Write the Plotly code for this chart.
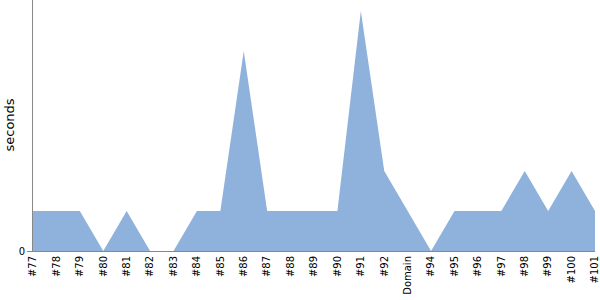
import plotly.graph_objects as go

categories = ["#77", "#78", "#79", "#80", "#81", "#82", "#83", "#84", "#85", "#86",
              "#87", "#88", "#89", "#90", "#91", "#92", "Domain", "#94", "#95", "#96",
              "#97", "#98", "#99", "#100", "#101"]
seconds = [1, 1, 1, 0, 1, 0, 0, 1, 1, 5,
           1, 1, 1, 1, 6, 2, 1, 0, 1, 1,
           1, 2, 1, 2, 1]

fig = go.Figure()
fig.add_trace(go.Scatter(
    x=categories, y=seconds, mode="lines", fill="tozeroy",
    line=dict(width=0, color="#8fb2dc"), fillcolor="#8fb2dc",
    hoverinfo="x+y",
))

fig.add_annotation(
    text="seconds", textangle=-90, showarrow=False,
    xref="paper", yref="paper", x=(9 - 33) / 562, y=0.5,
    xanchor="center", yanchor="middle",
    font=dict(size=13, color="black"),
)

fig.update_layout(
    width=600, height=300,
    margin=dict(l=33, r=5, t=0, b=49),
    paper_bgcolor="white", plot_bgcolor="white",
    showlegend=False,
    font=dict(family="DejaVu Sans", size=10, color="black"),
    xaxis=dict(
        type="category", range=[0, len(categories) - 1],
        tickangle=-90, showgrid=False, zeroline=False,
        showline=True, linecolor="#888888", linewidth=1,
        ticks="", tickfont=dict(size=10),
    ),
    yaxis=dict(
        range=[0, 6.275], tickvals=[0], ticktext=["0"],
        showgrid=False, zeroline=False,
        showline=True, linecolor="#888888", linewidth=1,
        ticks="outside", ticklen=5, tickcolor="#888888",
        tickfont=dict(size=10),
    ),
)

fig.write_html("out.html")
